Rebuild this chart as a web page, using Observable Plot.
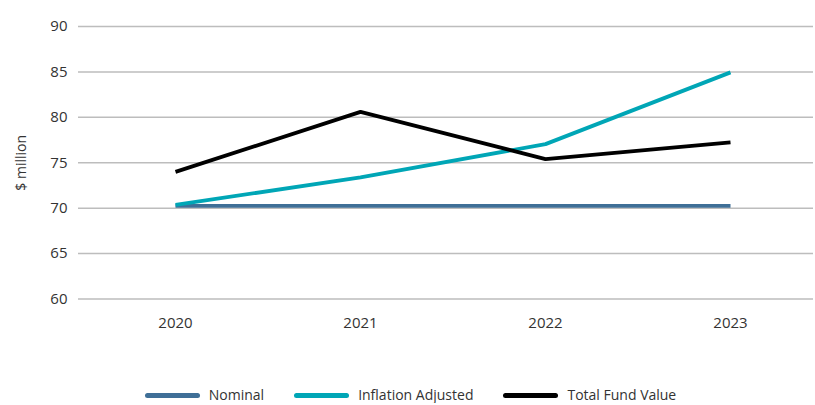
<!DOCTYPE html>
<html>
<head>
<meta charset="utf-8">
<script src="https://cdn.jsdelivr.net/npm/d3@7"></script>
<script src="https://cdn.jsdelivr.net/npm/@observablehq/plot@0.6"></script>
<style>
  html, body { margin: 0; padding: 0; background: #fff; }
  body { width: 815px; font-family: "Open Sans", sans-serif; }
  .legend { display: flex; justify-content: center; align-items: center; gap: 30px; margin-top: 42px; font-size: 14px; color: #333; height: 16px; line-height: 16px; padding-left: 6px; }
  .legend .item { display: flex; align-items: center; gap: 9px; }
  .legend .sw { width: 55px; height: 5px; border-radius: 3px; display: inline-block; }
</style>
</head>
<body>
<div id="chart"></div>
<script>
const years = ["2020", "2021", "2022", "2023"];
const nominal = [70.25, 70.25, 70.25, 70.25];
const inflationAdjusted = [70.35, 73.4, 77.05, 84.95];
const totalFundValue = [74.0, 80.6, 75.4, 77.25];
const seriesNames = ["Nominal", "Inflation Adjusted", "Total Fund Value"];
const seriesColors = ["#3f6f97", "#00a6b6", "#000000"];
const yTicks = [60, 65, 70, 75, 80, 85, 90];

const seriesValues = [nominal, inflationAdjusted, totalFundValue];
const rows = seriesNames.flatMap((s, i) => years.map((y, j) => ({series: s, year: y, value: seriesValues[i][j]})));

const plot = Plot.plot({
  width: 815,
  height: 345,
  marginTop: 26,
  marginBottom: 46.5,
  marginLeft: 78,
  marginRight: 2,
  style: {fontFamily: "'Open Sans', sans-serif", fontSize: "15px", color: "#333"},
  x: {domain: years, type: "point", range: [174, 731], padding: 0, label: null},
  y: {domain: [60, 90], ticks: yTicks, label: null},
  color: {domain: seriesNames, range: seriesColors},
  marks: [
    Plot.ruleY(yTicks, {stroke: "#bdbdbd", strokeWidth: 1.5}),
    Plot.axisY({ticks: yTicks, tickSize: 0, tickPadding: 11, label: null, fontSize: 15}),
    Plot.axisY({ticks: [], tickSize: 0, label: "$ million", labelAnchor: "center", labelArrow: "none", labelOffset: 62, fontSize: 14}),
    Plot.axisX({tickSize: 0, tickPadding: 18, label: null, fontSize: 15}),
    Plot.line(rows, {x: "year", y: "value", z: "series", stroke: "series", strokeWidth: 3.8, strokeLinecap: "butt", strokeLinejoin: "miter"})
  ]
});
document.getElementById("chart").appendChild(plot);

const legend = document.createElement("div");
legend.className = "legend";
seriesNames.forEach((s, i) => {
  const item = document.createElement("div");
  item.className = "item";
  const sw = document.createElement("span");
  sw.className = "sw";
  sw.style.background = seriesColors[i];
  const t = document.createElement("span");
  t.textContent = s;
  item.appendChild(sw);
  item.appendChild(t);
  legend.appendChild(item);
});
document.body.appendChild(legend);
</script>
</body>
</html>
